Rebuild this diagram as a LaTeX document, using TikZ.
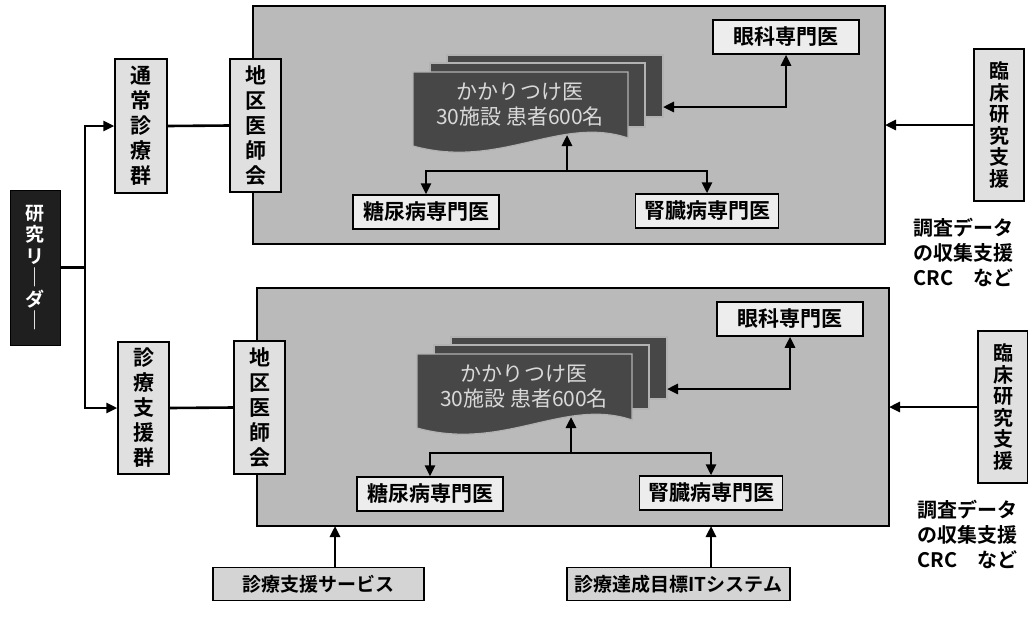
\documentclass[tikz,border=0pt]{standalone}
\usepackage{fontspec}
\setmainfont{Noto Sans CJK JP}[BoldFont={Noto Sans CJK JP Bold}]
\usetikzlibrary{arrows.meta}
\tikzset{
  lbl/.style={font=\fontsize{21}{25}\selectfont\bfseries, text=black},
  wbox/.style={lbl, draw=black, line width=1.5pt, fill=black!7, inner sep=0pt},
  gbox/.style={lbl, draw=black, line width=1.5pt, fill=black!12, inner sep=0pt, align=center},
  leaderbox/.style={font=\fontsize{19}{21.5}\selectfont\bfseries, text=white, fill=black!88, draw=black, line width=1pt, inner sep=0pt, align=center},
  panelbox/.style={draw=black, line width=1.5pt, fill=black!27, inner sep=0pt},
  doc/.style={fill=black!72, draw=black!30, line width=1.2pt},
  kktext/.style={font=\fontsize{21}{25}\selectfont, text=black!15, align=center},
  conn/.style={line width=2.6pt},
  arr/.style={conn, -{Triangle[length=11pt,width=10pt]}},
  darr/.style={conn, {Triangle[length=11pt,width=10pt]}-{Triangle[length=11pt,width=10pt]}},
  notes/.style={font=\fontsize{20}{25}\selectfont\bfseries, align=left, anchor=north west},
  sbox/.style={font=\fontsize{19}{23}\selectfont\bfseries, draw=black, line width=1.5pt, fill=black!17, inner sep=0pt},
  panel/.pic={
    \node[panelbox, minimum width=632, minimum height=238] (-panel) at (569,125) {};
    \path[doc] (447,55) rectangle (663,117);
    \path[doc] (430,63) rectangle (645,127);
    \path[doc] (413,72) -- (628,72) -- (628,138) .. controls (560,115) and (500,170) .. (413,146) -- cycle;
    \node[kktext] (-kk) at (520,105) {かかりつけ医\\30施設 患者600名};
    \coordinate (-kkr) at (663,107);
    \coordinate (-kkb) at (567,135);
    \coordinate (-j) at (567,171);
    \coordinate (-pr) at (885,125);
    \node[wbox, minimum width=146, minimum height=34] (-eye) at (786,37) {眼科専門医};
    \node[wbox, minimum width=146, minimum height=34] (-dm) at (426,212) {糖尿病専門医};
    \node[wbox, minimum width=143, minimum height=34] (-ck) at (707,211) {腎臓病専門医};
    \node[gbox, minimum width=51, minimum height=133] (-ishi) at (255.5,125.5) {地\\区\\医\\師\\会};
    \node[gbox, font=\fontsize{20}{21.5}\selectfont\bfseries, minimum width=50, minimum height=152] (-rin) at (999,125) {臨\\床\\研\\究\\支\\援};
    \node[notes] (-note) at (910,215) {調査データ\\の収集支援\\CRC　など};
    \draw[darr] (-kkr) -| (-eye.south);
    \draw[arr] (-j) -- (-kkb);
    \draw[arr] (-j) -| (-dm.north);
    \draw[arr] (-j) -| (-ck.north);
    \draw[arr] (-rin.west) -- (-pr);
  }
}
\begin{document}
\begin{tikzpicture}[x=1pt,y=-1pt]
  \useasboundingbox (0,0) rectangle (1028,619);
  \pic (top) at (0,0) {panel};
  \pic (bot) at (4,282) {panel};
  \node[leaderbox, minimum width=50, minimum height=155] (lead) at (35,267.5) {研\\究\\リ\\｜\\ダ\\｜};
  \node[gbox, minimum width=52, minimum height=134] (g1) at (141,126) {通\\常\\診\\療\\群};
  \node[gbox, minimum width=51, minimum height=132] (g2) at (143.5,408) {診\\療\\支\\援\\群};
  \coordinate (split) at (85,267.5);
  \draw[conn] (lead.east) -- (split);
  \draw[arr] (split) |- (g1.west);
  \draw[arr] (split) |- (g2.west);
  \draw[conn] (g1.east) -- (top-ishi.west);
  \draw[conn] (g2.east) -- (bot-ishi.west);
  \node[sbox, minimum width=211, minimum height=33] (svc) at (318.5,584) {診療支援サービス};
  \node[sbox, minimum width=223, minimum height=33] (its) at (678.5,584) {診療達成目標ITシステム};
  \coordinate (a1) at (335,526);
  \coordinate (a2) at (711,526);
  \draw[arr] (svc.north -| a1) -- (a1);
  \draw[arr] (its.north -| a2) -- (a2);
\end{tikzpicture}
\end{document}
